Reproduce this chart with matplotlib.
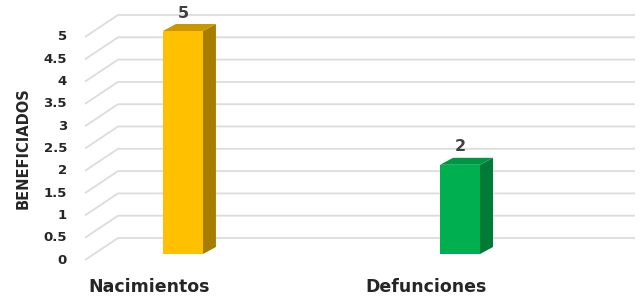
import matplotlib
matplotlib.use("Agg")
import matplotlib.pyplot as plt
from matplotlib.patches import Polygon

categories = ["Nacimientos", "Defunciones"]
values = [5, 2]
front_colors = ["#FFC000", "#00B050"]
side_colors = ["#A67D00", "#007A35"]
top_colors = ["#C99700", "#009544"]
yticks = [0, 0.5, 1, 1.5, 2, 2.5, 3, 3.5, 4, 4.5, 5]
ytick_labels = ["0", "0.5", "1", "1.5", "2", "2.5", "3", "3.5", "4", "4.5", "5"]
ylabel = "BENEFICIADOS"

W, H = 642, 301
fig = plt.figure(figsize=(W / 100, H / 100), dpi=100)
ax = fig.add_axes([85 / W, 41 / H, 517 / W, 223 / H])
ax.set_xlim(-0.321, 1.545)
ax.set_ylim(0, 5)
ax.axis("off")

def off(x, y, ox, oy):
    X, Y = ax.transData.transform((x, y))
    return tuple(ax.transData.inverted().transform((X + ox, Y + oy)))

# depth (pixels) of the back wall
BDX, BDY = 33, 22
grid_c = "#DCDCDC"
for v in yticks:
    p0 = off(ax.get_xlim()[0], v, 0, 0)
    p1 = off(ax.get_xlim()[0], v, BDX, BDY)
    p2 = off(ax.get_xlim()[1], v, BDX, BDY)
    ax.plot([p0[0], p1[0], p2[0]], [p0[1], p1[1], p2[1]], color=grid_c,
            lw=1.3, clip_on=False, zorder=1, solid_capstyle="butt")

# bars
FDX, FDY = 9, 6      # front face offset
DDX, DDY = 13, 7     # bar depth
half_w = 20          # half width in pixels
for i, (v, fc, sc, tc) in enumerate(zip(values, front_colors, side_colors, top_colors)):
    bl = off(i, 0, FDX - half_w, FDY)
    br = off(i, 0, FDX + half_w, FDY)
    tl = off(i, v, FDX - half_w, FDY)
    tr = off(i, v, FDX + half_w, FDY)
    br_b = off(i, 0, FDX + half_w + DDX, FDY + DDY)
    tr_b = off(i, v, FDX + half_w + DDX, FDY + DDY)
    tl_b = off(i, v, FDX - half_w + DDX, FDY + DDY)
    ax.add_patch(Polygon([br, br_b, tr_b, tr], closed=True, facecolor=sc,
                         edgecolor="none", zorder=3, clip_on=False))
    ax.add_patch(Polygon([tl, tr, tr_b, tl_b], closed=True, facecolor=tc,
                         edgecolor="none", zorder=3, clip_on=False))
    ax.add_patch(Polygon([bl, br, tr, tl], closed=True, facecolor=fc,
                         edgecolor="none", zorder=4, clip_on=False))
    ax.annotate(str(v), xy=(i, v), xytext=(FDX, 24), textcoords="offset pixels",
                ha="center", va="center", fontsize=11.5, fontweight="bold",
                color="#404040", annotation_clip=False)
    ax.annotate(categories[i], xy=(i, 0), xytext=(-25, -27), textcoords="offset pixels",
                ha="center", va="center", fontsize=12.5, fontweight="bold",
                color="#262626", annotation_clip=False)

for v, lab in zip(yticks, ytick_labels):
    ax.annotate(lab, xy=(ax.get_xlim()[0], v), xytext=(-18, 0), textcoords="offset pixels",
                ha="right", va="center", fontsize=9.5, fontweight="bold",
                color="#262626", annotation_clip=False)

fig.text(23 / W, 1 - 148 / H, ylabel, rotation=90, ha="center", va="center",
         fontsize=10.5, fontweight="bold", color="#262626")

fig.savefig("out.png", dpi=100)
